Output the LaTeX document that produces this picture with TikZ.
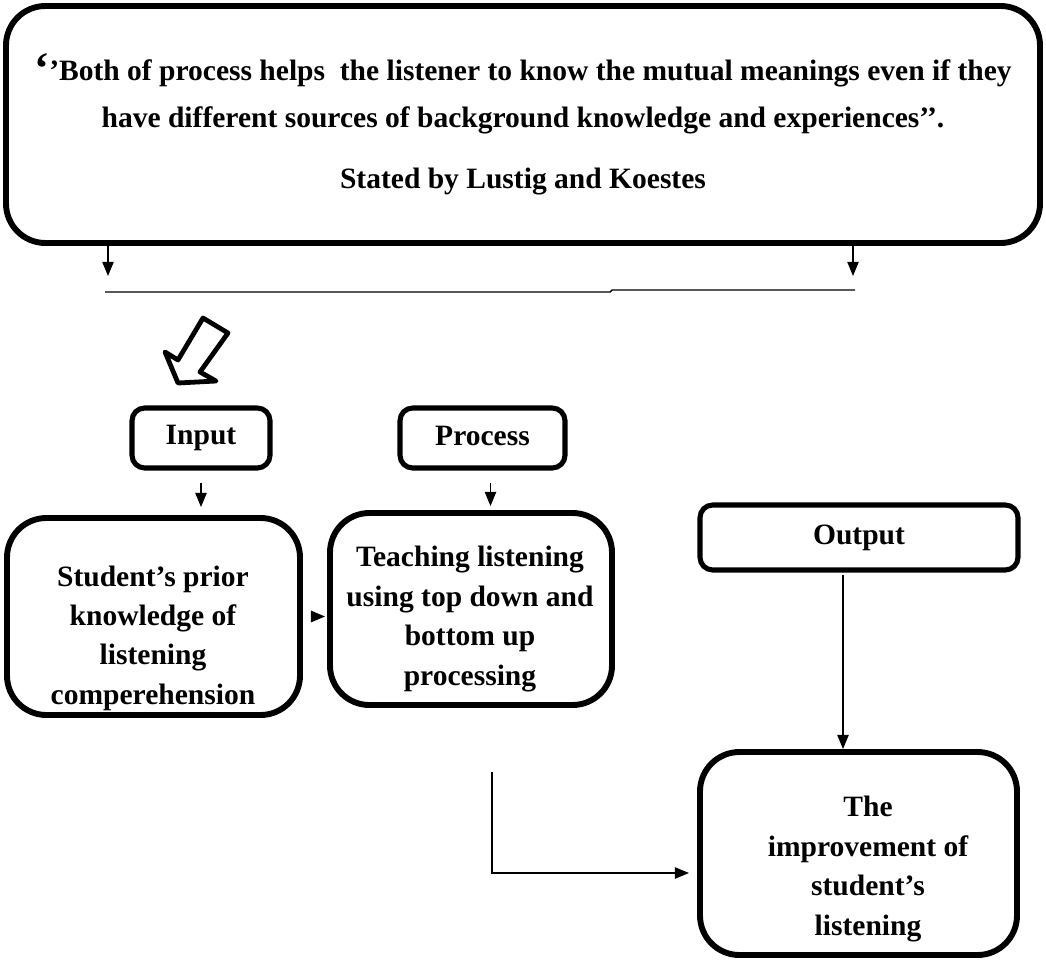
\documentclass[tikz,border=0pt]{standalone}
\usepackage{fontspec}
\setmainfont{Liberation Serif}
\usetikzlibrary{arrows.meta,positioning}

\begin{document}
\begin{tikzpicture}[x=0.025cm,y=-0.025cm,>=Triangle,
  bigbox/.style={draw=black,line width=4.2pt,rounded corners=28pt,inner sep=0pt},
  tagbox/.style={draw=black,line width=3.6pt,rounded corners=9pt,align=center,inner sep=0pt,font=\bfseries\fontsize{21}{28}\selectfont},
  boxtext/.style={align=center,inner sep=0pt,font=\bfseries\fontsize{21}{28}\selectfont},
  arr/.style={-{Triangle[length=10pt,width=8pt]},line width=1pt}]
\useasboundingbox (0,0) rectangle (1046,960);
% quotation at the top
\node[bigbox,minimum width=1034*0.025cm,minimum height=237*0.025cm,align=center,font=\bfseries\fontsize{21}{33}\selectfont] (q_box) at (523,124.5) {{\fontsize{32}{32}\selectfont\raisebox{-2pt}{‘}}’Both of process helps\ \ the listener to know the mutual meanings even if they\\have different sources of background knowledge and experiences’’.\\[11pt]Stated by Lustig and Koestes};
\coordinate (bar_l) at (108,292);
\coordinate (bar_r) at (853,290);
\draw[arr] (q_box.south -| bar_l) -- ([yshift=0.4cm]bar_l);
\draw[arr] (q_box.south -| bar_r) -- ([yshift=0.35cm]bar_r);
\draw[line width=1pt] ([xshift=-0.075cm]bar_l) -- (610,292) -- (612,290) -- ([xshift=0.05cm]bar_r);
% hollow arrow
\draw[line width=3.4pt,line join=round] (203,318) -- (228,333) -- (200,372) -- (216,381) -- (178,383) -- (165,352) -- (178,360) -- cycle;
% input / process / output
\node[tagbox,minimum width=138*0.025cm,minimum height=60*0.025cm] (in_box) at (201,438) {Input};
\node[tagbox,minimum width=165*0.025cm,minimum height=60*0.025cm] (pr_box) at (482.5,438) {\raisebox{3pt}{Process}};
\node[tagbox,minimum width=318*0.025cm,minimum height=65*0.025cm] (out_box) at (859,537.5) {Output};
\node[bigbox,minimum width=293*0.025cm,minimum height=197*0.025cm] (stu_box) at (153.5,616.5) {};
\node[bigbox,minimum width=282*0.025cm,minimum height=192*0.025cm] (tch_box) at (471,609) {};
\node[bigbox,minimum width=317*0.025cm,minimum height=203*0.025cm] (imp_box) at (858.5,853.5) {};
\node[boxtext] (stu_txt) at (153,638) {Student’s prior\\knowledge of\\listening\\comperehension};
\node[boxtext] (tch_txt) at (470,619) {Teaching listening\\using top down and\\bottom up\\processing};
\node[boxtext] (imp_txt) at (868,869) {The\\improvement of\\student’s\\listening};
\draw[arr,shorten <=0.3cm,shorten >=0.2cm] (in_box.south) -- (in_box.south |- stu_box.north);
\draw[arr,shorten <=0.3cm,shorten >=0.1cm] ([xshift=0.2cm]pr_box.south) -- ([xshift=0.2cm]pr_box.south |- tch_box.north);
\draw[arr,line width=1.4pt,shorten <=0.2cm,shorten >=0.05cm] (stu_box.east) -- (stu_box.east -| tch_box.west);
\draw[arr,shorten <=0.05cm] ([xshift=-0.4cm]out_box.south) -- ([xshift=-0.4cm]out_box.south |- imp_box.north);
\coordinate (elbow) at (492,873);
\draw[arr,shorten <=1.6cm,shorten >=0.2cm] (tch_box.south -| elbow) -- (elbow) -- (elbow -| imp_box.west);
\end{tikzpicture}
\end{document}
